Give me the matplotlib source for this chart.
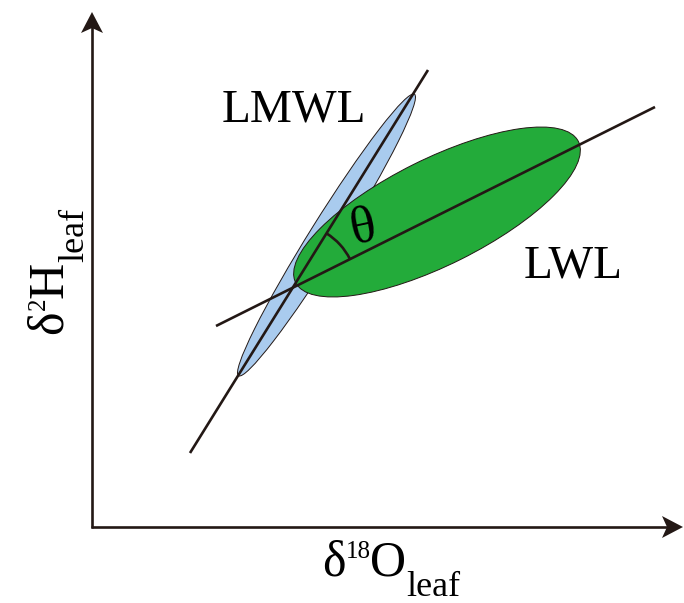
"""Schematic: LMWL vs LWL in dual-isotope space -> out.png."""
import matplotlib
matplotlib.use("Agg")
import matplotlib.pyplot as plt
import numpy as np
from matplotlib.patches import Ellipse, Arc, Polygon

plt.rcParams["font.family"] = ["Liberation Serif", "DejaVu Serif"]

INK = "#231815"
BLUE = "#a9cbee"
GREEN = "#23ab3a"

# everything in image pixels (x right, y down)
origin = (92, 527)
x_tip = 683
y_tip = 12

lmwl_line = [(190, 453), (428, 70)]
lwl_line = [(216, 326), (655, 107)]

blue_center, blue_axes, blue_angle = (326.5, 235), (332, 32), -58.0
green_center, green_axes, green_angle = (437, 212), (316, 106), -26.5

arc_radius = 64

labels = {"LMWL": (294, 122), "LWL": (573, 278)}
theta_pos = (363, 228)

fig = plt.figure(figsize=(6.84, 6.03), dpi=100)
ax = fig.add_axes([0, 0, 1, 1])
ax.set_xlim(0, 684)
ax.set_ylim(603, 0)
ax.axis("off")

# ellipses: blue below green
ax.add_patch(Ellipse(blue_center, *blue_axes, angle=blue_angle,
                     facecolor=BLUE, edgecolor=INK, lw=0.7, zorder=1))
ax.add_patch(Ellipse(green_center, *green_axes, angle=green_angle,
                     facecolor=GREEN, edgecolor=INK, lw=0.7, zorder=2))

# the two lines
for (x1, y1), (x2, y2) in (lmwl_line, lwl_line):
    ax.plot([x1, x2], [y1, y2], color=INK, lw=1.9, zorder=3,
            solid_capstyle="butt")


def intersect(l1, l2):
    (x1, y1), (x2, y2) = l1
    (x3, y3), (x4, y4) = l2
    a = np.array([[x2 - x1, x3 - x4], [y2 - y1, y3 - y4]], float)
    t, _ = np.linalg.solve(a, [x3 - x1, y3 - y1])
    return x1 + t * (x2 - x1), y1 + t * (y2 - y1)


def ang(line):
    (x1, y1), (x2, y2) = line
    return np.degrees(np.arctan2(y2 - y1, x2 - x1))


cx, cy = intersect(lmwl_line, lwl_line)
ax.add_patch(Arc((cx, cy), 2 * arc_radius, 2 * arc_radius,
                 theta1=ang(lmwl_line), theta2=ang(lwl_line),
                 color=INK, lw=1.9, zorder=4))
ax.text(*theta_pos, "θ", fontsize=38, ha="center", va="center",
        rotation=12, color="black", zorder=5)

for s, (x, y) in labels.items():
    ax.text(x, y, s, fontsize=34, ha="center", va="baseline", color="black")

# axes with notched arrowheads
ox, oy = origin
ax.plot([ox, ox], [oy + 1, y_tip + 15], color=INK, lw=1.9,
        solid_capstyle="butt")
ax.plot([ox - 1, x_tip - 15], [oy, oy], color=INK, lw=1.9,
        solid_capstyle="butt")
head_len, head_half, notch = 21, 11, 5
ax.add_patch(Polygon([(ox, y_tip), (ox + head_half, y_tip + head_len),
                      (ox, y_tip + head_len - notch),
                      (ox - head_half, y_tip + head_len)],
                     closed=True, facecolor=INK, edgecolor="none"))
ax.add_patch(Polygon([(x_tip, oy), (x_tip - head_len, oy - head_half),
                      (x_tip - head_len + notch, oy),
                      (x_tip - head_len, oy + head_half)],
                     closed=True, facecolor=INK, edgecolor="none"))

renderer = fig.canvas.get_renderer()


def chain(pieces, x0, y0, vertical=False):
    pos = 0.0
    for s, size, shift in pieces:
        if vertical:
            t = ax.text(x0 - shift, y0 - pos, s, fontsize=size, rotation=90,
                        rotation_mode="anchor", ha="left", va="baseline")
            pos += t.get_window_extent(renderer).height
        else:
            t = ax.text(x0 + pos, y0 - shift, s, fontsize=size,
                        ha="left", va="baseline")
            pos += t.get_window_extent(renderer).width


chain([("δ", 36, 0), ("18", 18, 17), ("O", 36, 0), ("leaf", 26, -21)],
      322, 575)
chain([("δ", 36, 0), ("2", 18, 17), ("H", 36, 0), ("leaf", 26, -21)],
      62, 334, vertical=True)

fig.savefig("out.png", dpi=100)
